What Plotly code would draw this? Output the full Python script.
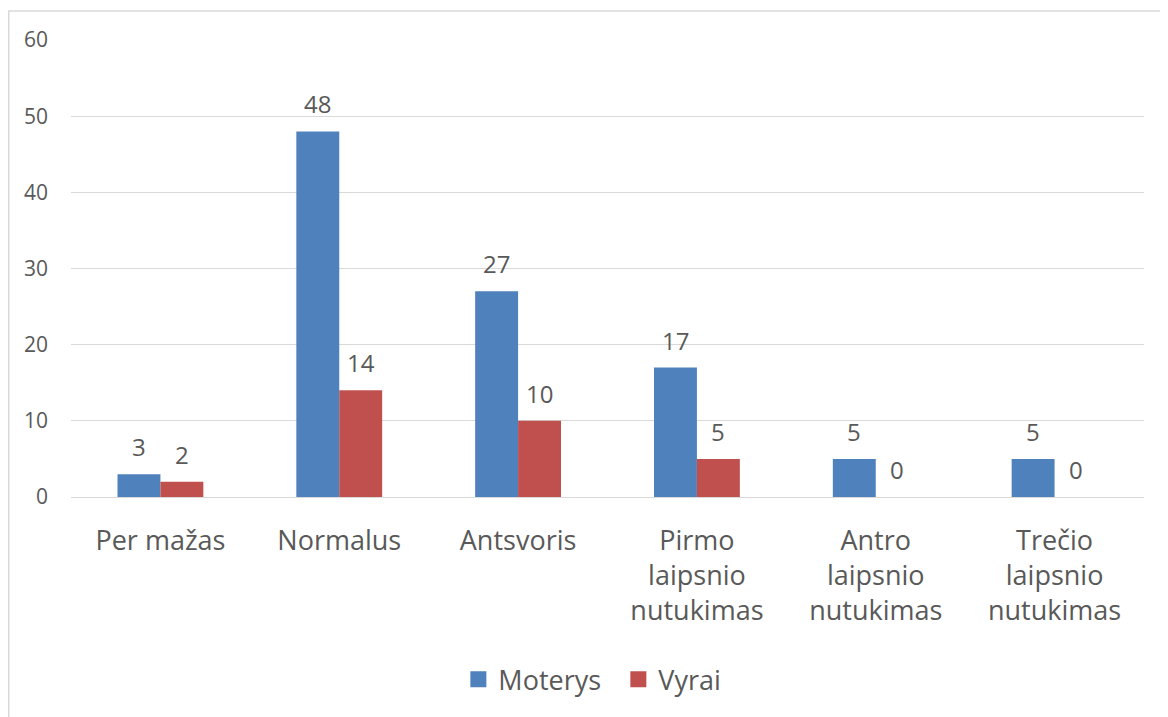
import plotly.graph_objects as go

categories = ["Per mažas", "Normalus", "Antsvoris", "Pirmo<br>laipsnio<br>nutukimas",
              "Antro<br>laipsnio<br>nutukimas", "Trečio<br>laipsnio<br>nutukimas"]
moterys = [3, 48, 27, 17, 5, 5]
vyrai = [2, 14, 10, 5, 0, 0]
y_ticks = [0, 10, 20, 30, 40, 50, 60]

FONT = "Open Sans"
TXT = "#595959"
BLUE = "#4F81BD"
RED = "#C0504D"

# page has an 8px body margin; figure is sized to fit the 1168x717 window
W, H = 1160, 709
ML, MR, MT, MB = 63, 24, 32, 220
PW = W - ML - MR
PH = H - MT - MB
CAT_W = PW / len(categories)
BAR_W_PX = CAT_W * 0.48 / 2

fig = go.Figure()
fig.add_trace(go.Bar(name="Moterys", x=categories, y=moterys, marker_color=BLUE,
                     marker_line_width=0, showlegend=False))
fig.add_trace(go.Bar(name="Vyrai", x=categories, y=vyrai, marker_color=RED,
                     marker_line_width=0, showlegend=False))
# legend entries with larger square swatches
for name, col in (("Moterys", BLUE), ("Vyrai", RED)):
    fig.add_trace(go.Scatter(x=[None], y=[None], mode="markers", name=name,
                             marker=dict(symbol="square", size=18, color=col),
                             showlegend=True))

annotations = []
for cat, m, v in zip(categories, moterys, vyrai):
    for val, shift in ((m, -BAR_W_PX / 2), (v, BAR_W_PX / 2)):
        annotations.append(dict(x=cat, y=val, xref="x", yref="y", text=str(val),
                                showarrow=False, xshift=shift, yshift=9, yanchor="bottom",
                                font=dict(family=FONT, size=24, color=TXT)))

fig.update_layout(
    width=W, height=H,
    margin=dict(l=ML, r=MR, t=MT, b=MB),
    paper_bgcolor="white", plot_bgcolor="white",
    barmode="group", bargap=0.52, bargroupgap=0,
    font=dict(family=FONT, color=TXT),
    showlegend=True,
    legend=dict(orientation="h", x=0.361, xanchor="left", y=-0.40, yanchor="middle",
                font=dict(family=FONT, size=27, color=TXT), itemsizing="trace",
                entrywidth=115, traceorder="normal", itemwidth=30),
    annotations=annotations,
    shapes=[dict(type="rect", xref="paper", yref="paper",
                 x0=(0.75 - ML) / PW, x1=(W + 20 - ML) / PW,
                 y0=-(H + 20 - (H - MB)) / PH, y1=1 + (MT - 3) / PH,
                 line=dict(color="#D9D9D9", width=1.5), fillcolor="rgba(0,0,0,0)", layer="below")],
)
fig.update_yaxes(range=[0, 60], tickvals=y_ticks, showgrid=True, gridcolor="#D9D9D9",
                 gridwidth=1.3, zeroline=False, showline=False, ticks="",
                 tickfont=dict(family=FONT, size=21, color=TXT), ticklabelstandoff=22)
fig.update_xaxes(showline=True, linecolor="#D9D9D9", linewidth=1.3, ticks="",
                 tickfont=dict(family=FONT, size=27, color=TXT), tickangle=0,
                 ticklabelstandoff=19)

fig.write_html("out.html")
